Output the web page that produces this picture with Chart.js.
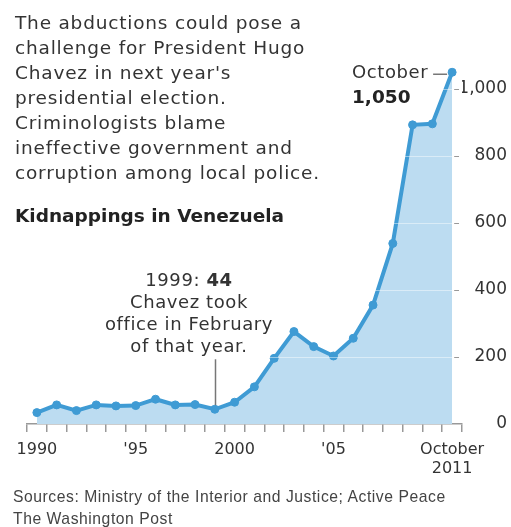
<!DOCTYPE html>
<html>
<head>
<meta charset="utf-8">
<script src="https://cdn.jsdelivr.net/npm/chart.js@4.4.0/dist/chart.umd.min.js"></script>
<style>
  body { margin: 0; background: #fff; }
  #wrap { position: relative; width: 511px; height: 527px; overflow: hidden; }
  #chart { position: absolute; left: 0; top: 0; }
  .txt { position: absolute; color: #333; font-family: "DejaVu Sans", sans-serif; white-space: nowrap; pointer-events: none; }
  #intro { left: 15px; top: 10px; font-size: 18.5px; line-height: 25px; letter-spacing: 0.8px; }
  #subhead { left: 15px; top: 203px; font-size: 18.5px; line-height: 25px; font-weight: bold; color: #222; }
  #note1999 { left: 89px; width: 200px; top: 268.6px; font-size: 18px; line-height: 22.3px; letter-spacing: 0.6px; text-align: center; }
  #noteOct { left: 352px; top: 59.3px; font-size: 18px; line-height: 25px; letter-spacing: 0.6px; }
  #noteOct b { font-size: 18.5px; letter-spacing: 0; color: #222; }
  #source { left: 13px; top: 485.5px; font-family: "Liberation Sans", Arial, sans-serif; font-size: 15.7px; line-height: 22px; letter-spacing: 0.55px; color: #444; }
</style>
</head>
<body>
<div id="wrap">
  <canvas id="chart" width="511" height="527"></canvas>
  <div class="txt" id="intro">The abductions could pose a<br>challenge for President Hugo<br>Chavez in next year's<br>presidential election.<br>Criminologists blame<br>ineffective government and<br>corruption among local police.</div>
  <div class="txt" id="subhead">Kidnappings in Venezuela</div>
  <div class="txt" id="note1999">1999: <b>44</b><br>Chavez took<br>office in February<br>of that year.</div>
  <div class="txt" id="noteOct">October<br><b>1,050</b></div>
  <div class="txt" id="source">Sources: Ministry of the Interior and Justice; Active Peace<br>The Washington Post</div>
</div>
<script>
// Kidnappings in Venezuela, 1990 - October 2011
const years = ['1990', '1991', '1992', '1993', '1994', '1995', '1996', '1997', '1998', '1999', '2000',
               '2001', '2002', '2003', '2004', '2005', '2006', '2007', '2008', '2009', '2010', '2011'];
const kidnappings = [34, 57, 40, 57, 54, 55, 74, 57, 58, 44, 65,
                     111, 196, 276, 231, 203, 256, 355, 539, 893, 896, 1050];

// tick labels
const labelYears = ['1990', '1995', '2000', '2005', '2011'];
const labelTexts = ['1990', "'95", '2000', "'05", ['October', '2011']];
const yTicks = [0, 200, 400, 600, 800, 1000];

const lineColor = '#3f9bd4';
const fillColor = '#bcdcf1';
const axisColor = '#999';

Chart.defaults.font.family = "'DejaVu Sans', sans-serif";
Chart.defaults.color = '#333';

// leader lines for the two annotations
const leaders = {
    id: 'leaders',
    afterDatasetsDraw: function(chart) {
        const ctx = chart.ctx;
        const x = chart.scales.x;
        const y = chart.scales.y;
        ctx.save();
        ctx.strokeStyle = '#777';
        ctx.lineWidth = 1.5;

        // 1999 note
        const i99 = years.indexOf('1999');
        const px = Math.round(x.getPixelForValue(i99)) + 0.5;
        const py = y.getPixelForValue(kidnappings[i99]);
        ctx.beginPath();
        ctx.moveTo(px, py - 4);
        ctx.lineTo(px, py - 50);
        ctx.stroke();

        // October dash
        const last = years.length - 1;
        const lx = x.getPixelForValue(last);
        const ly = y.getPixelForValue(kidnappings[last]) + 2;
        ctx.beginPath();
        ctx.moveTo(lx - 19, ly);
        ctx.lineTo(lx - 5, ly);
        ctx.stroke();
        ctx.restore();
    }
};

new Chart(document.getElementById('chart').getContext('2d'), {
    type: 'line',
    data: {
        labels: years,
        datasets: [{
            data: kidnappings,
            borderColor: lineColor,
            backgroundColor: fillColor,
            borderWidth: 4,
            fill: 'origin',
            tension: 0,
            pointRadius: 4,
            pointBackgroundColor: lineColor,
            pointBorderColor: lineColor,
            pointBorderWidth: 1
        }]
    },
    options: {
        responsive: false,
        animation: false,
        layout: {
            padding: { left: 27, right: 4, top: 55.5, bottom: 40.6 }
        },
        scales: {
            x: {
                type: 'category',
                offset: true,
                grid: {
                    offset: true,
                    drawOnChartArea: false,
                    drawTicks: true,
                    tickLength: 8,
                    color: axisColor,
                    lineWidth: 1.5
                },
                border: {
                    display: true,
                    color: axisColor,
                    width: 1.5
                },
                ticks: {
                    autoSkip: false,
                    maxRotation: 0,
                    minRotation: 0,
                    padding: 8,
                    color: '#333',
                    font: { size: 16 },
                    callback: function(value) {
                        const i = labelYears.indexOf(this.getLabelForValue(value));
                        return i >= 0 ? labelTexts[i] : '';
                    }
                }
            },
            y: {
                position: 'right',
                min: 0,
                max: 1100,
                afterBuildTicks: function(scale) {
                    scale.ticks = yTicks.map(function(v) { return { value: v }; });
                },
                afterFit: function(scale) {
                    scale.width = 45;
                },
                grid: {
                    z: 1,
                    drawTicks: false,
                    lineWidth: 1,
                    color: function(context) {
                        const chart = context.chart;
                        const area = chart.chartArea;
                        if (!area || !context.tick || context.tick.value === 0) {
                            return 'rgba(0,0,0,0)';
                        }
                        // whitish inside the filled area, short grey stub just past the last point
                        const w = area.right - area.left;
                        const endX = chart.scales.x.getPixelForValue(years.length - 1);
                        const s1 = (endX + 2 - area.left) / w;
                        const s2 = Math.min(0.998, (endX + 7 - area.left) / w);
                        const g = chart.ctx.createLinearGradient(area.left, 0, area.right, 0);
                        g.addColorStop(0, 'rgba(255,255,255,0.45)');
                        g.addColorStop(s1, 'rgba(255,255,255,0.45)');
                        g.addColorStop(s1 + 0.001, axisColor);
                        g.addColorStop(s2, axisColor);
                        g.addColorStop(s2 + 0.001, 'rgba(255,255,255,0)');
                        g.addColorStop(1, 'rgba(255,255,255,0)');
                        return g;
                    }
                },
                border: { display: false },
                ticks: {
                    crossAlign: 'far',
                    padding: -4,
                    color: '#333',
                    font: { size: 17 },
                    callback: function(value) {
                        return value.toLocaleString('en-US');
                    }
                }
            }
        },
        plugins: {
            legend: { display: false },
            tooltip: { enabled: false }
        }
    },
    plugins: [leaders]
});
</script>
</body>
</html>
